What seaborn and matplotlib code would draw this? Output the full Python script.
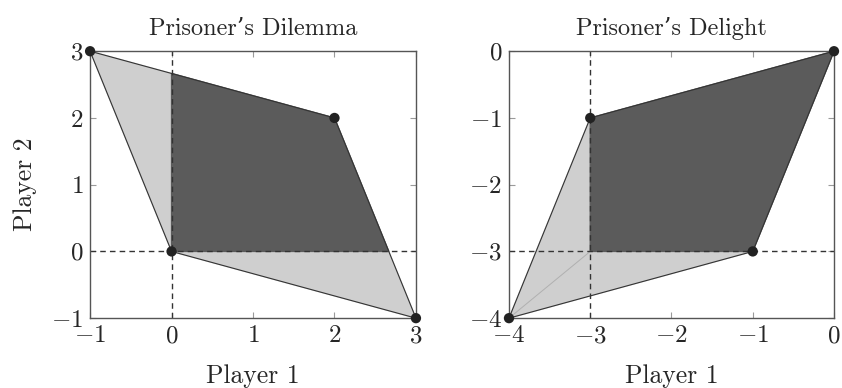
import numpy as np
import pandas as pd
import matplotlib
matplotlib.use("Agg")
import matplotlib.pyplot as plt
import seaborn as sb

# payoff outcomes (player 1, player 2), in hull order
dilemma_p1 = [-1, 2, 3, 0]
dilemma_p2 = [3, 2, -1, 0]
dilemma_ref = (0, 0)          # mutual defection point

delight_p1 = [-4, -3, 0, -1]
delight_p2 = [-4, -1, 0, -3]
delight_ref = (-3, -3)

titles = ["Prisoner\u2019s Dilemma", "Prisoner\u2019s Delight"]
xlims = [(-1, 3), (-4, 0)]
ylims = [(-1, 3), (-4, 0)]

LIGHT = "#cfcfcf"
DARK = "#5b5b5b"


def clip_quadrant(xs, ys, rx, ry):
    # keep the part of the polygon with x >= rx and y >= ry (Sutherland-Hodgman)
    pts = list(zip(xs, ys))
    for axis, val in [(0, rx), (1, ry)]:
        out = []
        for i in range(len(pts)):
            a, b = pts[i], pts[(i + 1) % len(pts)]
            ina, inb = a[axis] >= val - 1e-9, b[axis] >= val - 1e-9
            if ina:
                out.append(a)
            if ina != inb:
                t = (val - a[axis]) / (b[axis] - a[axis])
                out.append((a[0] + t * (b[0] - a[0]), a[1] + t * (b[1] - a[1])))
        pts = out
    return [p[0] for p in pts], [p[1] for p in pts]


sb.set_style("ticks")
plt.rcParams["font.family"] = ["cmr10", "DejaVu Serif"]
plt.rcParams["axes.formatter.use_mathtext"] = True
plt.rcParams["mathtext.fontset"] = "cm"

fig = plt.figure(figsize=(8.42, 3.88), dpi=100)
ax1 = fig.add_axes([0.107, 0.180, 0.387, 0.688])
ax2 = fig.add_axes([0.6045, 0.180, 0.386, 0.688])

games = [(ax1, dilemma_p1, dilemma_p2, dilemma_ref),
         (ax2, delight_p1, delight_p2, delight_ref)]

for k, (ax, p1, p2, ref) in enumerate(games):
    ax.fill(p1, p2, color=LIGHT, zorder=1)
    cx, cy = clip_quadrant(p1, p2, ref[0], ref[1])
    ax.fill(cx, cy, color=DARK, zorder=2)
    ax.plot(p1 + [p1[0]], p2 + [p2[0]], color="#333333", lw=0.8, zorder=3)
    if k == 1:
        # faint line from the worst outcome to the reference point
        ax.plot([p1[0], ref[0]], [p2[0], ref[1]], color="#b0b0b0", lw=0.7, zorder=2)
    ax.axvline(ref[0], color="#333333", lw=1.0, ls=(0, (4, 3)), zorder=2.5)
    ax.axhline(ref[1], color="#333333", lw=1.0, ls=(0, (4, 3)), zorder=2.5)
    df = pd.DataFrame({"p1": p1, "p2": p2})
    sb.scatterplot(data=df, x="p1", y="p2", ax=ax, color="#222222", s=55,
                   edgecolor="none", zorder=5, clip_on=False)
    ax.set_xlim(*xlims[k])
    ax.set_ylim(*ylims[k])
    ax.set_xticks(np.arange(xlims[k][0], xlims[k][1] + 1))
    ax.set_yticks(np.arange(ylims[k][0], ylims[k][1] + 1))
    ax.tick_params(direction="in", length=4, color="#9a9a9a", top=True, right=True,
                   labelsize=18, pad=5)
    for sp in ax.spines.values():
        sp.set_color("#555555")
        sp.set_linewidth(1.0)
    ax.set_title(titles[k], fontsize=17.5, pad=12)
    ax.set_xlabel("Player 1", fontsize=18.5, labelpad=12)
    ax.set_ylabel("")

ax1.set_ylabel("Player 2", fontsize=18.5, labelpad=10)

plt.savefig("out.png", dpi=100)
